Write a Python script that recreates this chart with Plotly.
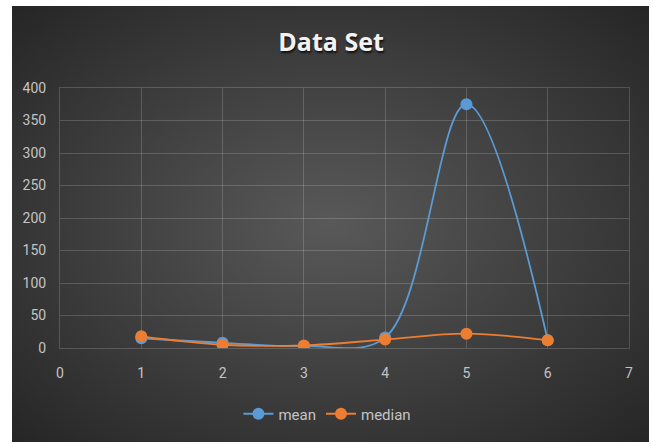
import base64
import plotly.graph_objects as go

# Series values
x_vals = [1, 2, 3, 4, 5, 6]
mean_vals = [15, 8, 3, 16, 375, 12]
median_vals = [18, 5, 4, 13, 22, 12]

x_ticks = [0, 1, 2, 3, 4, 5, 6, 7]
y_ticks = [0, 50, 100, 150, 200, 250, 300, 350, 400]

BLUE = "#5b9bd5"
ORANGE = "#ed7d31"
LABEL = "#c4c4c4"
FONT = "Roboto, sans-serif"

# Radial-gradient backdrop for the chart panel
svg = (
    '<svg xmlns="http://www.w3.org/2000/svg" width="637" height="436" '
    'preserveAspectRatio="none">'
    '<defs><radialGradient id="g" cx="50%" cy="50%" r="70%">'
    '<stop offset="0%" stop-color="#595959"/>'
    '<stop offset="100%" stop-color="#262626"/>'
    '</radialGradient></defs>'
    '<rect width="637" height="436" fill="url(#g)"/></svg>'
)
bg_src = "data:image/svg+xml;base64," + base64.b64encode(svg.encode()).decode()

fig = go.Figure()
fig.add_trace(go.Scatter(
    x=x_vals, y=mean_vals, name="mean", mode="lines+markers",
    line=dict(color=BLUE, width=1.8, shape="spline", smoothing=1),
    marker=dict(color=BLUE, size=12),
))
fig.add_trace(go.Scatter(
    x=x_vals, y=median_vals, name="median", mode="lines+markers",
    line=dict(color=ORANGE, width=1.8, shape="spline", smoothing=1),
    marker=dict(color=ORANGE, size=12),
))

# plot area spans pixels x 60..629, y 88..348
pw, ph = 569.0, 260.0
fig.add_layout_image(dict(
    source=bg_src, xref="paper", yref="paper",
    x=(12 - 60) / pw, y=(348 - 6) / ph,
    sizex=637 / pw, sizey=436 / ph,
    xanchor="left", yanchor="top", sizing="stretch", layer="below",
))

fig.update_layout(
    width=653, height=444,
    margin=dict(l=60, r=24, t=88, b=96),
    paper_bgcolor="white",
    plot_bgcolor="rgba(0,0,0,0)",
    title=dict(
        text="<b>Data Set</b>", x=0.507, xanchor="center",
        y=1 - 42 / 444, yanchor="middle",
        font=dict(family="Open Sans, sans-serif", size=25, color="#f2f2f2",
                  shadow="1px 2px 2px #111"),
    ),
    xaxis=dict(
        range=[0, 7], tickvals=x_ticks, showgrid=True,
        gridcolor="rgba(255,255,255,0.17)", gridwidth=1,
        zeroline=False, showline=True, linecolor="rgba(255,255,255,0.17)",
        mirror=True, ticks="", ticklabelstandoff=12,
        tickfont=dict(family=FONT, size=14, color=LABEL),
    ),
    yaxis=dict(
        range=[0, 400], tickvals=y_ticks, showgrid=True,
        gridcolor="rgba(255,255,255,0.17)", gridwidth=1,
        zeroline=True, zerolinecolor="#8c8c8c", zerolinewidth=1.5,
        showline=True, linecolor="rgba(255,255,255,0.17)", mirror=True,
        ticks="", ticklabelstandoff=10,
        tickfont=dict(family=FONT, size=14, color=LABEL),
    ),
    legend=dict(
        orientation="h", x=0.47, xanchor="center",
        y=(348 - 414) / ph, yanchor="middle",
        font=dict(family=FONT, size=15, color=LABEL),
        bgcolor="rgba(0,0,0,0)",
    ),
    showlegend=True,
)

fig.write_html("out.html")
